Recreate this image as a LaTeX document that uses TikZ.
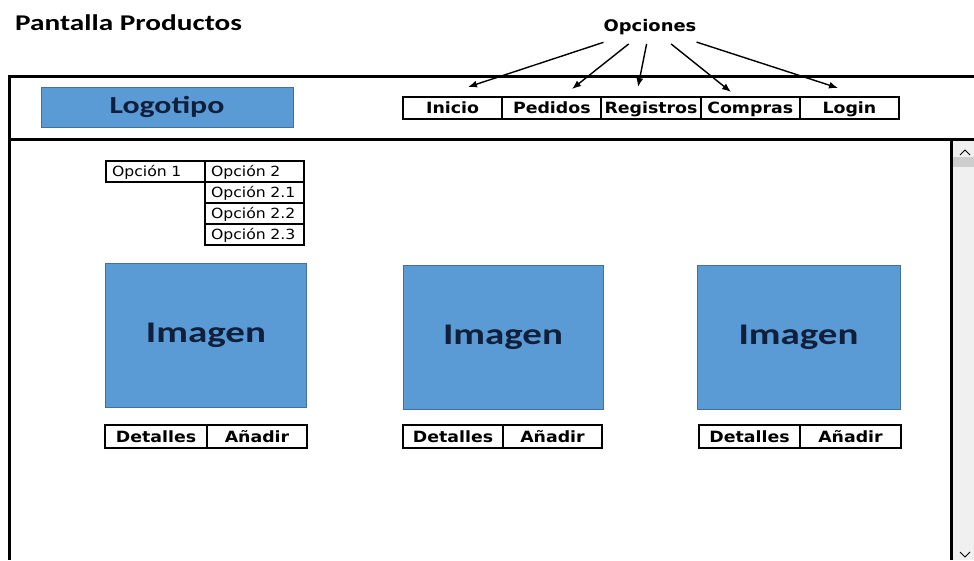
\documentclass[tikz,border=0pt]{standalone}
\usepackage{fontspec}
\setmainfont{Carlito}[FakeStretch=1.3]
\newfontfamily\pixfont{DejaVu Sans}[FakeStretch=1.12]
\usetikzlibrary{arrows.meta}
\definecolor{caja}{RGB}{91,155,213}
\definecolor{borde}{RGB}{65,113,156}
\definecolor{tinta}{RGB}{16,32,60}
\definecolor{barra}{RGB}{240,240,240}
\definecolor{cursor}{RGB}{205,205,205}
\begin{document}
\begin{tikzpicture}[x=1pt,y=-1pt,
    menu/.style={draw,line width=2pt,minimum width=99.2pt,minimum height=22pt,inner sep=0pt,
      text height=12pt,text depth=1pt,font=\pixfont\bfseries\fontsize{15.5}{15.5}\selectfont},
    opcion/.style={draw,line width=1.6pt,minimum width=99pt,minimum height=21pt,inner ysep=0pt,
      inner xsep=6pt,text width=87pt,align=left,text height=11pt,text depth=1pt,
      font=\pixfont\fontsize{14}{14}\selectfont},
    bloque/.style={draw=borde,fill=caja,text=tinta,inner sep=0pt},
    boton/.style={draw,line width=2pt,minimum height=23pt,inner sep=0pt,
      text height=12pt,text depth=1pt,font=\pixfont\bfseries\fontsize{15.5}{15.5}\selectfont},
    flecha/.style={-{Latex[length=9pt,width=7pt]},line width=1.4pt}]
  \useasboundingbox (0,0) rectangle (974,560);
  % marco de la pantalla
  \fill[barra] (951,139) rectangle (974,560);
  \fill[cursor] (953,157) rectangle (974,167);
  \draw[line width=1pt] (960,155) -- (965,150) -- (970,155);
  \draw[line width=1pt] (960,552) -- (965,557) -- (970,552);
  \draw[line width=3pt] (974,76) -| (9,560);
  \draw[line width=3pt] (9,139) -- (974,139);
  \draw[line width=3pt] (951,139) -- (951,560);
  \node[anchor=west,inner sep=0pt,font=\bfseries\fontsize{22.5}{22.5}\selectfont] (titulo) at (15,23) {Pantalla Productos};
  \node[bloque,minimum width=252pt,minimum height=40pt,font=\bfseries\fontsize{24.5}{24.5}\selectfont] (logo) at (167,107) {Logotipo};
  % menu
  \node[menu] (ini) at (452.6,108) {Inicio};
  \node[menu] (ped) at (551.8,108) {Pedidos};
  \node[menu] (reg) at (651,108) {Registros};
  \node[menu] (com) at (750.2,108) {Compras};
  \node[menu] (log) at (849.4,108) {Login};
  \node[inner xsep=0pt,inner ysep=9pt,font=\pixfont\bfseries\fontsize{16}{16}\selectfont] (opc) at (650,27) {Opciones};
  \coordinate (fIni) at (468,87);
  \coordinate (fPed) at (572,89);
  \coordinate (fReg) at (638,87);
  \coordinate (fCom) at (731,92);
  \coordinate (fLog) at (838,88);
  \begin{scope}[flecha]
    \draw (opc) to (fIni);
    \draw (opc) to (fPed);
    \draw (opc) to (fReg);
    \draw (opc) to (fCom);
    \draw (opc) to (fLog);
  \end{scope}
  % submenu
  \node[opcion] (op1) at (155.5,171.5) {Opción 1};
  \node[opcion] (op2) at (254.5,171.5) {Opción 2};
  \node[opcion] (op21) at (254.5,192.5) {Opción 2.1};
  \node[opcion] (op22) at (254.5,213.5) {Opción 2.2};
  \node[opcion] (op23) at (254.5,234.5) {Opción 2.3};
  % productos
  \begin{scope}[every node/.append style={font=\bfseries\fontsize{30}{30}\selectfont}]
    \node[bloque,minimum width=201pt,minimum height=144pt] (img1) at (206,335) {Imagen};
    \node[bloque,minimum width=200pt,minimum height=144pt] (img2) at (503,337) {Imagen};
    \node[bloque,minimum width=203pt,minimum height=144pt] (img3) at (798.5,337) {Imagen};
  \end{scope}
  \node[boton,minimum width=102pt] (det1) at (156,436.5) {Detalles};
  \node[boton,minimum width=100pt] (add1) at (257,436.5) {Añadir};
  \node[boton,minimum width=100pt] (det2) at (453,436.5) {Detalles};
  \node[boton,minimum width=99pt] (add2) at (552.5,436.5) {Añadir};
  \node[boton,minimum width=101pt] (det3) at (749.5,436.5) {Detalles};
  \node[boton,minimum width=101pt] (add3) at (850.5,436.5) {Añadir};
\end{tikzpicture}
\end{document}
